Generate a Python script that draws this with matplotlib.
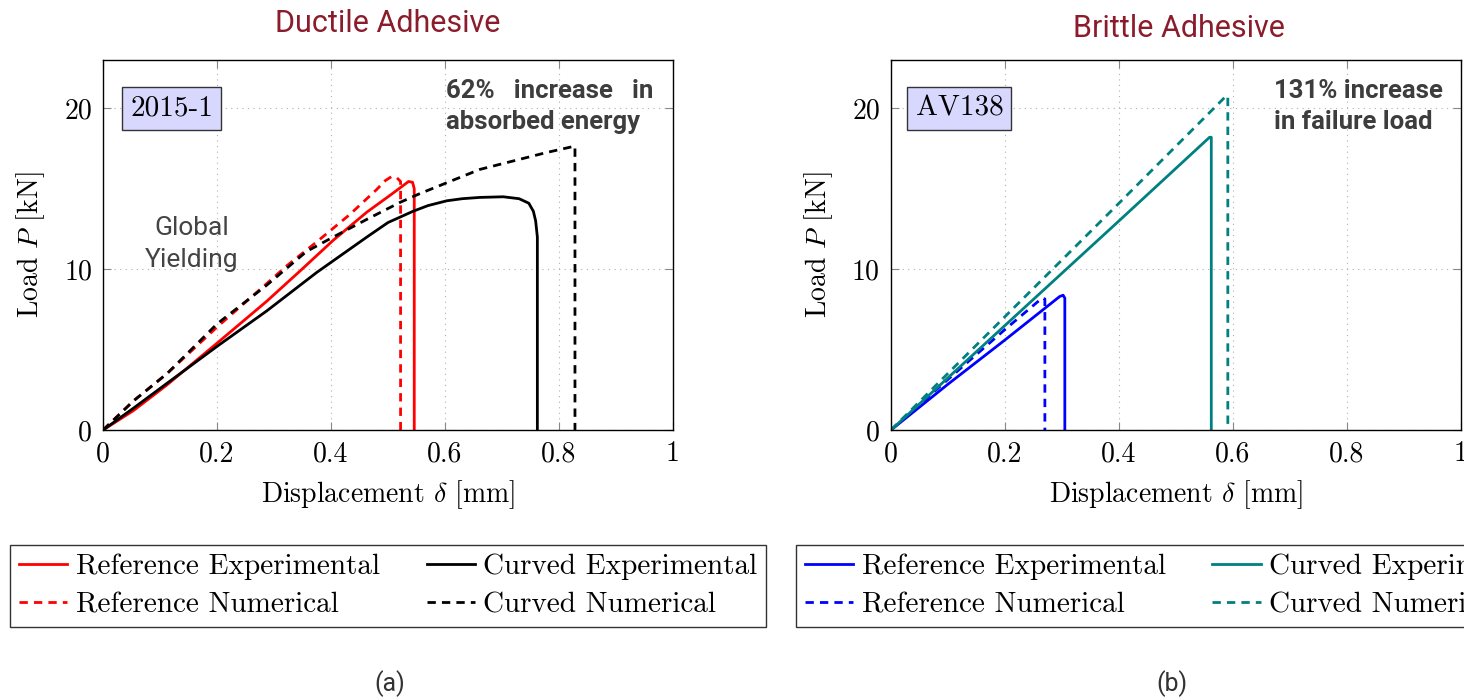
import matplotlib
matplotlib.use("Agg")
from matplotlib import pyplot as plt

plt.rcParams['font.family'] = 'cmr10'
plt.rcParams['mathtext.fontset'] = 'cm'
plt.rcParams['axes.formatter.use_mathtext'] = True
plt.rcParams['axes.unicode_minus'] = False

# axis ticks
x_ticks = [0, 0.2, 0.4, 0.6, 0.8, 1]
x_tick_labels = ['0', '0.2', '0.4', '0.6', '0.8', '1']
y_ticks = [0, 10, 20]
y_tick_labels = ['0', '10', '20']

series_labels = ['Reference Experimental', 'Reference Numerical',
                 'Curved Experimental', 'Curved Numerical']

# ductile adhesive (2015-1)
d_ref_exp_x = [0, 0.053, 0.112, 0.2, 0.287, 0.346, 0.404, 0.463, 0.5, 0.521, 0.536, 0.543, 0.546, 0.546]
d_ref_exp_y = [0, 1.2, 2.8, 5.4, 8.0, 9.9, 11.8, 13.55, 14.5, 15.05, 15.45, 15.4, 15.0, 0]
d_ref_num_x = [0, 0.053, 0.112, 0.2, 0.287, 0.322, 0.375, 0.433, 0.48, 0.495, 0.506, 0.515, 0.522, 0.522]
d_ref_num_y = [0, 1.8, 3.5, 6.4, 9.1, 10.2, 11.7, 13.4, 14.95, 15.5, 15.75, 15.7, 15.45, 0]
d_curv_exp_x = [0, 0.053, 0.112, 0.2, 0.287, 0.375, 0.463, 0.5, 0.544, 0.57, 0.603, 0.63, 0.661,
                0.702, 0.73, 0.747, 0.755, 0.759, 0.762, 0.762]
d_curv_exp_y = [0, 1.35, 2.9, 5.2, 7.4, 9.8, 12.0, 12.9, 13.6, 13.95, 14.25, 14.38, 14.46,
                14.5, 14.38, 14.1, 13.6, 13.0, 12.0, 0]
d_curv_num_x = [0, 0.053, 0.112, 0.2, 0.287, 0.357, 0.404, 0.463, 0.521, 0.556, 0.661, 0.778, 0.828, 0.828]
d_curv_num_y = [0, 1.8, 3.5, 6.6, 9.0, 11.1, 12.0, 13.1, 14.15, 14.7, 16.2, 17.25, 17.65, 0]

# brittle adhesive (AV138)
b_ref_exp_x = [0, 0.1, 0.2, 0.296, 0.302, 0.305, 0.305]
b_ref_exp_y = [0, 2.85, 5.6, 8.3, 8.38, 8.2, 0]
b_ref_num_x = [0, 0.1, 0.2, 0.265, 0.27, 0.27]
b_ref_num_y = [0, 3.15, 6.25, 8.2, 8.15, 0]
b_curv_exp_x = [0, 0.2, 0.4, 0.559, 0.562, 0.562]
b_curv_exp_y = [0, 6.5, 13.0, 18.2, 18.2, 0]
b_curv_num_x = [0, 0.2, 0.4, 0.589, 0.591, 0.591]
b_curv_num_y = [0, 7.05, 14.1, 20.8, 20.7, 0]

dash = (3, 2.2)
title_col = '#8B1C2C'
note_col = '#3d3d3d'


def style_axes(ax):
    ax.set_xlim(0, 1)
    ax.set_ylim(0, 23)
    ax.set_xticks(x_ticks)
    ax.set_xticklabels(x_tick_labels)
    ax.set_yticks(y_ticks)
    ax.set_yticklabels(y_tick_labels)
    ax.tick_params(direction='in', length=6, width=0.8, color='#888888',
                   top=True, right=True, labelsize=20, pad=8)
    ax.grid(True, linestyle=(0, (1, 4)), color='#b0b0b0', linewidth=0.8)
    for s in ax.spines.values():
        s.set_linewidth(1.0)
    ax.set_xlabel(r'Displacement $\delta$ [mm]', fontsize=20, labelpad=8)
    ax.set_ylabel(r'Load $P$ [kN]', fontsize=20, labelpad=12)


fig = plt.figure(figsize=(14.64, 6.99), dpi=100)
ax1 = fig.add_axes([0.0704, 0.3848, 0.3893, 0.5293])
ax2 = fig.add_axes([0.6086, 0.3848, 0.3893, 0.5293])

h1 = [
    ax1.plot(d_ref_exp_x, d_ref_exp_y, color='red', lw=2)[0],
    ax1.plot(d_ref_num_x, d_ref_num_y, color='red', lw=2, dashes=dash)[0],
    ax1.plot(d_curv_exp_x, d_curv_exp_y, color='black', lw=2)[0],
    ax1.plot(d_curv_num_x, d_curv_num_y, color='black', lw=2, dashes=dash)[0],
]
h2 = [
    ax2.plot(b_ref_exp_x, b_ref_exp_y, color='blue', lw=2)[0],
    ax2.plot(b_ref_num_x, b_ref_num_y, color='blue', lw=2, dashes=dash)[0],
    ax2.plot(b_curv_exp_x, b_curv_exp_y, color='teal', lw=2)[0],
    ax2.plot(b_curv_num_x, b_curv_num_y, color='teal', lw=2, dashes=dash)[0],
]

for ax, hs, tag, x0 in [(ax1, h1, '2015-1', -0.163), (ax2, h2, 'AV138', -0.1667)]:
    style_axes(ax)
    ax.text(0.12, 20, tag, ha='center', va='center', fontsize=21,
            bbox=dict(boxstyle='square,pad=0.28', fc='#d8d8ff', ec='#333333', lw=1.0))
    leg = ax.legend(hs, series_labels, ncol=2, loc='upper left',
                    bbox_to_anchor=(x0, -0.31), fontsize=21, frameon=True,
                    fancybox=False, edgecolor='#333333', framealpha=1,
                    handlelength=1.65, handletextpad=0.3, columnspacing=1.6,
                    borderpad=0.3, labelspacing=0.4, borderaxespad=0)
    leg.get_frame().set_linewidth(1.0)

# notes
ax1.text(0.601, 20.67, '62%   increase   in', family='Roboto', weight='bold',
         fontsize=18.5, color=note_col, va='baseline')
ax1.text(0.601, 18.71, 'absorbed energy', family='Roboto', weight='bold',
         fontsize=18.5, color=note_col, va='baseline')
ax1.text(0.156, 12.14, 'Global', family='Roboto', fontsize=19, color='#444444',
         ha='center', va='baseline')
ax1.text(0.156, 10.16, 'Yielding', family='Roboto', fontsize=19, color='#444444',
         ha='center', va='baseline')
ax2.text(0.672, 20.67, '131% increase', family='Roboto', weight='bold',
         fontsize=18.5, color=note_col, va='baseline')
ax2.text(0.672, 18.71, 'in failure load', family='Roboto', weight='bold',
         fontsize=18.5, color=note_col, va='baseline')

fig.text(0.2646, 0.9547, 'Ductile Adhesive', family='Roboto', fontsize=22,
         color=title_col, ha='center', va='baseline')
fig.text(0.8051, 0.9475, 'Brittle Adhesive', family='Roboto', fontsize=22,
         color=title_col, ha='center', va='baseline')
fig.text(0.2664, 0.0215, '(a)', family='Roboto', fontsize=18, color='#333333',
         ha='center', va='center')
fig.text(0.8005, 0.0215, '(b)', family='Roboto', fontsize=18, color='#333333',
         ha='center', va='center')

fig.savefig('out.png', dpi=100)
